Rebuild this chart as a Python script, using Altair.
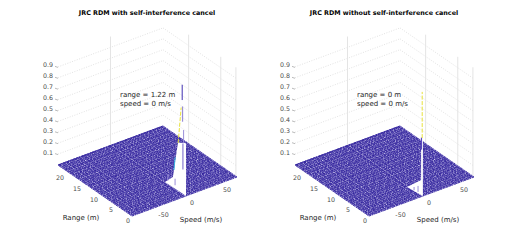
import numpy as np
import pandas as pd
import altair as alt

# ---- values
titles = ["JRC RDM with self-interference cancel", "JRC RDM without self-interference cancel"]
notes = [["range = 1.22 m", "speed = 0 m/s"], ["range = 0 m", "speed = 0 m/s"]]
range_ticks = [0, 5, 10, 15, 20]
speed_ticks = [-50, 0, 50]
z_ticks = [0.1, 0.2, 0.3, 0.4, 0.5, 0.6, 0.7, 0.8, 0.9]
range_max = 20.5
speed_min, speed_max = -75.0, 75.0
z_top = 1.0
wall_speed_lines = [0.0]
wall_range_lines = [0.3, 4.5, 13.4]

# mesh sample spacing, as the clumped bins appear in the picture
range_gaps = [0.29, 0.17, 0.36, 0.21, 0.14, 0.33, 0.19, 0.40, 0.16, 0.26, 0.13, 0.35, 0.23]
speed_gaps = [1.8, 1.0, 2.1, 1.2, 1.5, 0.9, 2.3, 1.3, 1.0, 1.9, 0.9, 2.0, 1.4, 1.1, 1.7]
MESH_COLOR = "#2a1a98"
MESH_UNDER = "#a79fdc"
# broken-line styles that give the mesh its speckled look
mesh_dashes = [
    ([2.3, 0.9, 1.1, 1.3, 3.1, 0.8], 0.0),
    ([1.4, 1.2, 2.7, 0.7, 1.9, 1.5], 1.3),
    ([3.3, 1.1, 1.2, 0.8, 1.6, 1.2], 2.1),
    ([1.1, 0.8, 2.1, 1.4, 2.9, 0.9], 3.4),
    ([2.6, 1.3, 1.5, 0.7, 1.2, 1.1], 0.7),
    ([1.7, 0.9, 3.0, 1.2, 1.0, 1.0], 2.8),
    ([2.0, 1.4, 1.3, 0.9, 2.4, 0.7], 4.2),
]


def samples(start, stop, gaps):
    out, v, i = [start], start, 0
    while True:
        v += gaps[i % len(gaps)]
        i += 1
        if v >= stop:
            break
        out.append(v)
    out.append(stop)
    return out


range_samples = samples(0.0, range_max, range_gaps)
speed_samples = samples(speed_min, speed_max, speed_gaps)

# silhouettes of the peak: (range, speed, z)
top_edges = [
    [(5.7, 1.4, 0.0), (3.6, 2.0, 0.093), (2.2, 2.0, 0.437), (0.25, 2.0, 0.48), (0.0, 2.2, 0.48)],
    [(3.9, -0.7, 0.0), (0.5, 2.0, 0.135), (0.49, 2.0, 0.50), (0.0, 2.0, 0.514)],
]
bottom_edges = [
    [(5.7, 1.4, 0.0), (0.0, 2.2, 0.0)],
    [(3.9, -0.7, 0.0), (0.0, 2.0, 0.0)],
]
# spike pieces: panel, colour, width, dash, points (range, speed, z)
spikes = [
    (0, "#2a1aa8", 0.9, 0, [(1.22, 3.0, 0.85), (1.22, 3.0, 0.99)]),
    (0, "#9a8fd8", 1.2, 0, [(1.22, 3.5, 0.65), (1.22, 3.5, 0.79)]),
    (0, "#9a8fd8", 1.0, 0, [(1.22, 5.0, 0.45), (1.22, 5.0, 0.57)]),
    (0, "#9a8fd8", 1.4, 0, [(1.22, 4.0, 0.21), (1.22, 4.0, 0.45)]),
    (0, "#e8e23a", 1.0, 1, [(1.22, 1.5, 0.785), (2.05, 1.5, 0.44)]),
    (0, "#39b6e0", 1.0, 0, [(2.9, 1.5, 0.29), (3.2, 1.5, 0.166)]),
    (0, "#9a8fd8", 1.0, 0, [(4.9, 1.5, 0.03), (4.9, 1.5, 0.09)]),
    (0, "#9a8fd8", 1.0, 0, [(3.0, 2.0, 0.03), (3.0, 2.0, 0.09)]),
    (1, "#e8e23a", 1.0, 1, [(0.1, 1.5, 0.53), (0.1, 1.5, 0.954)]),
    (1, "#5a48c0", 1.2, 0, [(0.3, 1.5, 0.42), (0.3, 1.5, 0.53)]),
    (1, "#9a8fd8", 1.0, 0, [(1.25, 1.5, 0.01), (1.25, 1.5, 0.065)]),
    (1, "#9a8fd8", 1.0, 0, [(2.35, 1.5, 0.0), (2.35, 1.5, 0.03)]),
]

# ---- layout (image pixels)
W, H = 507, 227
FRONT = np.array([132.0, 216.0])
LEFT = np.array([58.0, 165.0])
RIGHT = np.array([237.0, 177.0])
Z_PX = 109.0
PANEL_DX = 237.0
FONT = "DejaVu Sans"
TICK_COLOR = "#4a4a4a"
TEXT_COLOR = "#262626"


def proj(r, s, z, panel=0):
    u = r / range_max
    v = (s - speed_min) / (speed_max - speed_min)
    p = FRONT + u * (LEFT - FRONT) + v * (RIGHT - FRONT)
    return p[0] + panel * PANEL_DX, p[1] - Z_PX * z


walls, verts, meshes, spike_rows, ticks = [], [], [], [], []
areas, labels = [], []
lid = 0

for panel in (0, 1):
    for z in z_ticks:
        for a, b in [((range_max, speed_min), (range_max, speed_max)),
                     ((range_max, speed_max), (0, speed_max))]:
            for r, s in (a, b):
                x, y = proj(r, s, z, panel)
                walls.append(dict(x=x, y=y, id=lid))
            lid += 1
        x, y = proj(range_max, speed_min, z, panel)
        ticks.append(dict(x=x, y=y + 0.5, id=lid))
        ticks.append(dict(x=x - 3, y=y - 0.5, id=lid))
        lid += 1
        labels.append(dict(x=x - 5, y=y - 1.5, t=f"{z:g}", a="right", s=6.3, c=TICK_COLOR, w="normal"))
    for s in wall_speed_lines:
        for z in (0.0, z_top):
            x, y = proj(range_max, s, z, panel)
            verts.append(dict(x=x, y=y, id=lid))
        lid += 1
    for r in wall_range_lines:
        for z in (0.0, z_top):
            x, y = proj(r, speed_max, z, panel)
            verts.append(dict(x=x, y=y, id=lid))
        lid += 1
    # mesh
    for i, r in enumerate(range_samples):
        for s in (speed_min, speed_max):
            x, y = proj(r, s, 0, panel)
            meshes.append(dict(x=x, y=y, id=lid, g=i % len(mesh_dashes)))
        lid += 1
    for i, s in enumerate(speed_samples):
        for r in (0, range_max):
            x, y = proj(r, s, 0, panel)
            meshes.append(dict(x=x, y=y, id=lid, g=(i * 3 + 1) % len(mesh_dashes)))
        lid += 1
    # peak silhouette
    top = np.array([proj(*p, panel) for p in top_edges[panel]])
    bot = np.array([proj(*p, panel) for p in bottom_edges[panel]])
    xs = np.unique(np.concatenate([top[:, 0], bot[:, 0]]))
    yt = np.interp(xs, top[:, 0], top[:, 1])
    yb = np.interp(xs, bot[:, 0], bot[:, 1])
    for a, b, c in zip(xs, yt, yb):
        areas.append(dict(x=a, y=b, y2=c, panel=panel))
    # range tick labels
    for r in range_ticks:
        f = r / 20
        labels.append(dict(x=128 - 68 * f + panel * PANEL_DX, y=221 - 43 * f, t=str(r), a="center",
                           s=6.3, c=TICK_COLOR, w="normal"))
    # speed tick labels
    for s, (ox, oy) in zip(speed_ticks, [(14, 5.5), (7.5, 6.5), (7.5, 6.5)]):
        x, y = proj(0, s, 0, panel)
        labels.append(dict(x=x + ox, y=y + oy, t=str(s), a="center", s=6.3, c=TICK_COLOR, w="normal"))
    labels.append(dict(x=81 + panel * PANEL_DX, y=217.5, t="Range (m)", a="center", s=7, c=TEXT_COLOR, w="normal"))
    labels.append(dict(x=201 + panel * PANEL_DX, y=220, t="Speed (m/s)", a="center", s=7, c=TEXT_COLOR, w="normal"))
    labels.append(dict(x=[147, 384][panel], y=13, t=titles[panel], a="center", s=6.4, c="#000000", w="bold"))
    for i, n in enumerate(notes[panel]):
        labels.append(dict(x=120 + panel * PANEL_DX, y=95 + 8.5 * i, t=n, a="left", s=7, c=TEXT_COLOR, w="normal"))

for panel, color, width, dash, pts in spikes:
    for p in pts:
        x, y = proj(*p, panel)
        spike_rows.append(dict(x=x, y=y, id=lid, color=color, width=width, dash=dash))
    lid += 1

xs_scale = alt.Scale(domain=[8, 8 + W], range=[0, W], nice=False, zero=False)
ys_scale = alt.Scale(domain=[8 + H, 8], range=[H, 0], nice=False, zero=False)
X = alt.X("x:Q", scale=xs_scale, axis=None)
Y = alt.Y("y:Q", scale=ys_scale, axis=None)


def lines(rows, **mark):
    return alt.Chart(pd.DataFrame(rows)).mark_line(**mark).encode(x=X, y=Y, detail="id:N")


layers = [
    lines(walls, color="#cfcfcf", strokeWidth=0.6, strokeDash=[1, 1.5]),
    lines(verts, color="#e4e4e4", strokeWidth=1),
    lines(ticks, color="#777777", strokeWidth=0.5),
    lines(meshes, color=MESH_UNDER, strokeWidth=0.7),
]
for g, (dash, off) in enumerate(mesh_dashes):
    layers.append(lines([m for m in meshes if m["g"] == g], color=MESH_COLOR, strokeWidth=0.68,
                        strokeDash=dash, strokeDashOffset=off))
layers.append(alt.Chart(pd.DataFrame(areas)).mark_area(color="white", opacity=1, interpolate="linear").encode(
    x=X, y=Y, y2="y2:Q", detail="panel:N"))
for color, width, dash in sorted({(r["color"], r["width"], r["dash"]) for r in spike_rows}):
    sub = [r for r in spike_rows if (r["color"], r["width"], r["dash"]) == (color, width, dash)]
    kw = {"strokeDash": [4, 1.5]} if dash else {}
    layers.append(lines(sub, color=color, strokeWidth=width, **kw))

keys = sorted({(l["a"], l["s"], l["c"], l["w"]) for l in labels})
for a, s, c, w in keys:
    sub = [l for l in labels if (l["a"], l["s"], l["c"], l["w"]) == (a, s, c, w)]
    layers.append(alt.Chart(pd.DataFrame(sub)).mark_text(
        align=a, baseline="middle", font=FONT, fontSize=s, color=c, fontWeight=w, opacity=0.99
    ).encode(x=X, y=Y, text="t:N"))

chart = alt.layer(*layers).properties(width=W, height=H, padding=0, background="white").configure_view(stroke=None)
chart.save("out.html", embed_options={"renderer": "svg", "actions": False})
